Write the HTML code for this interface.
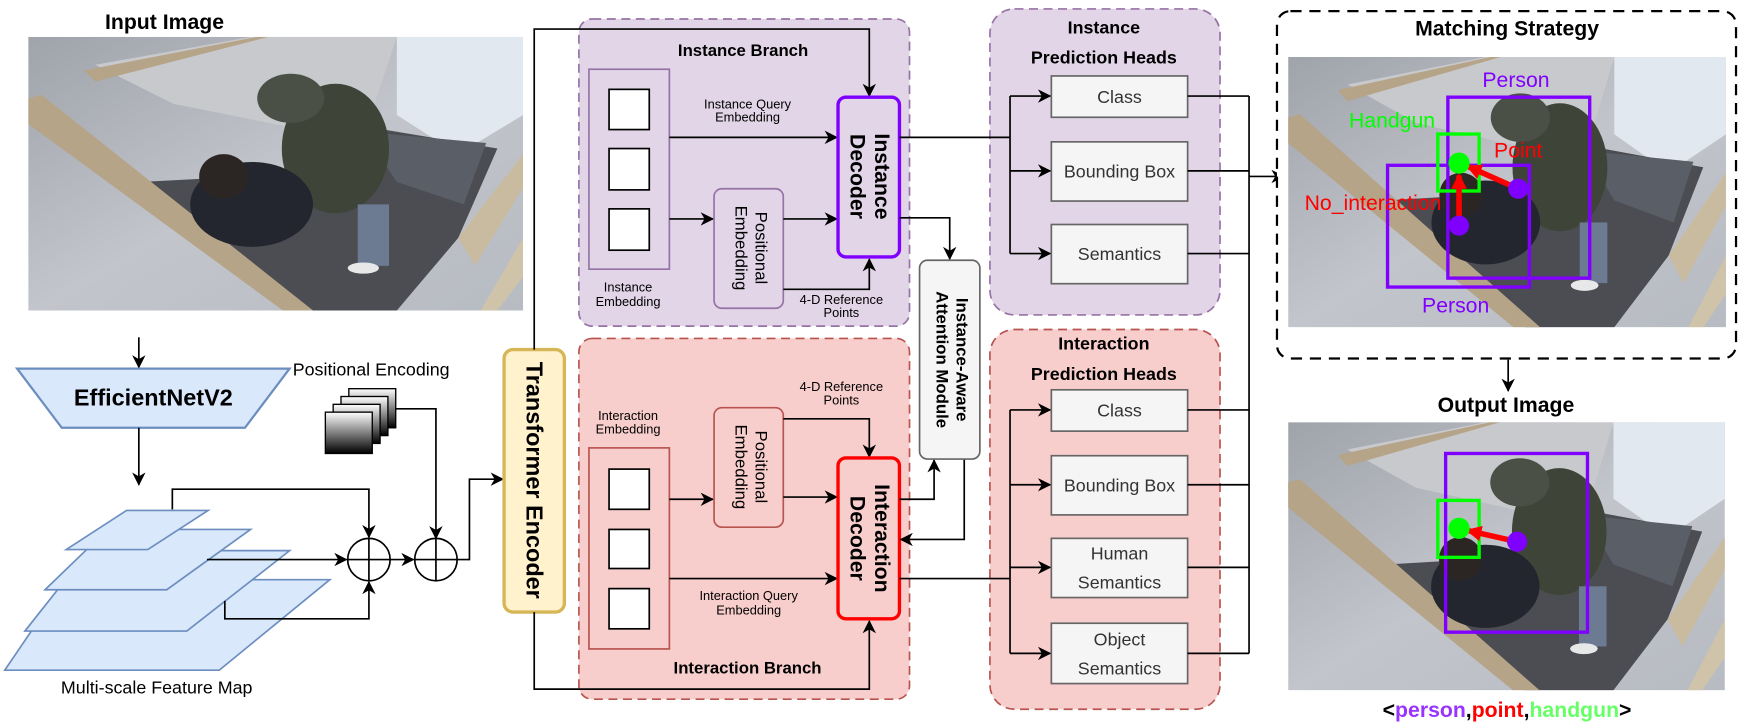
<!DOCTYPE html>
<html><head><meta charset="utf-8"><style>
html,body{margin:0;padding:0;background:#fff;}
svg{display:block;font-family:"Liberation Sans",Arial,sans-serif;}
</style></head><body>
<svg width="1752" height="726" viewBox="0 0 1568 650" xmlns="http://www.w3.org/2000/svg">
<defs>
<marker id="a" markerUnits="userSpaceOnUse" markerWidth="12" markerHeight="12" refX="11" refY="6" orient="auto">
<path d="M0,0 L12,6 L0,12 L3.5,6 z" fill="#000"/></marker>
<marker id="r" markerUnits="userSpaceOnUse" markerWidth="14" markerHeight="14" refX="12" refY="7" orient="auto">
<path d="M0,0 L14,7 L0,14 z" fill="#f00"/></marker>
<linearGradient id="pe" x1="0" y1="0" x2="0" y2="1"><stop offset="0" stop-color="#fff"/><stop offset="1" stop-color="#000"/></linearGradient>
<linearGradient id="wall" x1="0" y1="0" x2="1" y2="1"><stop offset="0" stop-color="#9fa3aa"/><stop offset="0.5" stop-color="#c2c5cb"/><stop offset="1" stop-color="#b7bbc2"/></linearGradient>
<symbol id="scene" viewBox="0 0 443 245" preserveAspectRatio="none">
<rect width="443" height="245" fill="url(#wall)"/>
<polygon points="60,25 200,0 330,0 300,90 230,80 130,60" fill="#c8c9cc"/>
<polygon points="330,0 443,0 443,70 385,105 330,70" fill="#e2e8ef"/>
<polygon points="100,130 190,200 240,245 330,245 385,180 420,100 300,80 290,120" fill="#4b4d52"/>
<polygon points="300,85 410,95 390,150 330,130" fill="#5a5e66"/>
<polygon points="0,55 12,52 255,245 228,245 0,78" fill="#b5a488"/>
<polygon points="50,30 205,0 215,0 60,40" fill="#b5a488"/>
<polygon points="385,180 443,105 443,135 400,205" fill="#c9bba0"/>
<polygon points="405,245 443,180 443,215 420,245" fill="#cfc3aa"/>
<ellipse cx="275" cy="100" rx="48" ry="58" fill="#3f4439"/>
<ellipse cx="235" cy="55" rx="30" ry="22" fill="#4a5046"/>
<ellipse cx="200" cy="150" rx="55" ry="38" fill="#23262f"/>
<rect x="295" y="150" width="28" height="55" fill="#6c7a92"/>
<ellipse cx="300" cy="207" rx="14" ry="5" fill="#e8e8e8"/>
<ellipse cx="175" cy="125" rx="22" ry="20" fill="#2b2623"/>
</symbol>
</defs>

<!-- Left column -->
<text x="147" y="26" font-size="19" font-weight="bold" text-anchor="middle">Input Image</text>
<use href="#scene" x="25" y="33" width="443" height="245"/>
<line x1="124" y1="302" x2="124" y2="329" stroke="#000" stroke-width="1.5" marker-end="url(#a)"/>
<polygon points="15,330 259,330 219,383 55,383" fill="#dae8fc" stroke="#6c8ebf" stroke-width="2"/>
<text x="137" y="363" font-size="21" font-weight="bold" text-anchor="middle">EfficientNetV2</text>
<line x1="124" y1="383" x2="124" y2="434" stroke="#000" stroke-width="1.5" marker-end="url(#a)"/>

<polygon points="4,600 59,519 295,519 196,600" fill="#dae8fc" stroke="#6c8ebf" stroke-width="1.5"/>
<polygon points="22,565 79,493 259,493 167,565" fill="#dae8fc" stroke="#6c8ebf" stroke-width="1.5"/>
<polygon points="40,528 96,474 224,474 149,528" fill="#dae8fc" stroke="#6c8ebf" stroke-width="1.5"/>
<polygon points="59,492 113,457 186,457 132,492" fill="#dae8fc" stroke="#6c8ebf" stroke-width="1.5"/>
<text x="140" y="621" font-size="16" text-anchor="middle">Multi-scale Feature Map</text>

<polyline points="154,456 154,438 330,438 330,481" fill="none" stroke="#000" stroke-width="1.5" marker-end="url(#a)"/>
<line x1="185" y1="501" x2="310" y2="501" stroke="#000" stroke-width="1.5" marker-end="url(#a)"/>
<polyline points="201,538 201,554 330,554 330,521" fill="none" stroke="#000" stroke-width="1.5" marker-end="url(#a)"/>
<circle cx="330" cy="501" r="19" fill="#fff" stroke="#000" stroke-width="1.5"/>
<line x1="311" y1="501" x2="349" y2="501" stroke="#000" stroke-width="1.5"/>
<line x1="330" y1="482" x2="330" y2="520" stroke="#000" stroke-width="1.5"/>
<line x1="349" y1="501" x2="370" y2="501" stroke="#000" stroke-width="1.5" marker-end="url(#a)"/>
<circle cx="390" cy="501" r="19" fill="#fff" stroke="#000" stroke-width="1.5"/>
<line x1="371" y1="501" x2="409" y2="501" stroke="#000" stroke-width="1.5"/>
<line x1="390" y1="482" x2="390" y2="520" stroke="#000" stroke-width="1.5"/>

<text x="332" y="336" font-size="16" text-anchor="middle">Positional Encoding</text>
<rect x="312" y="348" width="42" height="35" fill="url(#pe)" stroke="#000" stroke-width="1.2"/>
<rect x="305" y="355" width="42" height="35" fill="url(#pe)" stroke="#000" stroke-width="1.2"/>
<rect x="298" y="362" width="42" height="35" fill="url(#pe)" stroke="#000" stroke-width="1.2"/>
<rect x="291" y="369" width="42" height="37" fill="url(#pe)" stroke="#000" stroke-width="1.2"/>
<polyline points="354,366 390,366 390,482" fill="none" stroke="#000" stroke-width="1.5" marker-end="url(#a)"/>
<polyline points="409,501 420,501 420,429 450,429" fill="none" stroke="#000" stroke-width="1.5" marker-end="url(#a)"/>

<rect x="451" y="313" width="54" height="235" rx="8" fill="#fff2cc" stroke="#d6b656" stroke-width="3"/>
<text transform="translate(471,430) rotate(90)" font-size="21" font-weight="bold" text-anchor="middle">Transformer Encoder</text>

<!-- Instance branch -->
<rect x="518" y="17" width="296" height="275" rx="12" fill="#e1d5e7" stroke="#9673a6" stroke-width="1.5" stroke-dasharray="8,5"/>
<text x="665" y="50" font-size="15" font-weight="bold" text-anchor="middle">Instance Branch</text>
<polyline points="478,313 478,26 778,26 778,86" fill="none" stroke="#000" stroke-width="1.5" marker-end="url(#a)"/>
<rect x="527" y="62" width="72" height="179" fill="#e1d5e7" stroke="#9673a6" stroke-width="1.5"/>
<rect x="545" y="80" width="36" height="36" fill="#fff" stroke="#000" stroke-width="1.5"/>
<rect x="545" y="133" width="36" height="37" fill="#fff" stroke="#000" stroke-width="1.5"/>
<rect x="545" y="187" width="36" height="37" fill="#fff" stroke="#000" stroke-width="1.5"/>
<text font-size="11.5" text-anchor="middle"><tspan x="562" y="261">Instance</tspan><tspan x="562" y="274">Embedding</tspan></text>
<line x1="599" y1="123" x2="749" y2="123" stroke="#000" stroke-width="1.5" marker-end="url(#a)"/>
<text font-size="11.5" text-anchor="middle"><tspan x="669" y="97">Instance Query</tspan><tspan x="669" y="109">Embedding</tspan></text>
<line x1="599" y1="196" x2="638" y2="196" stroke="#000" stroke-width="1.5" marker-end="url(#a)"/>
<rect x="639" y="169" width="62" height="107" rx="7" fill="#e1d5e7" stroke="#9673a6" stroke-width="1.5"/>
<text transform="translate(670,222) rotate(90)" font-size="15" text-anchor="middle"><tspan x="0" y="-6">Positional</tspan><tspan x="0" y="12">Embedding</tspan></text>
<line x1="701" y1="196" x2="749" y2="196" stroke="#000" stroke-width="1.5" marker-end="url(#a)"/>
<polyline points="701,259 778,259 778,232" fill="none" stroke="#000" stroke-width="1.5" marker-end="url(#a)"/>
<text font-size="11.5" text-anchor="middle"><tspan x="753" y="272">4-D Reference</tspan><tspan x="753" y="284">Points</tspan></text>
<rect x="750" y="87" width="55" height="143" rx="7" fill="#e1d5e7" stroke="#7f00ff" stroke-width="3"/>
<text transform="translate(777,158) rotate(90)" font-size="19" font-weight="bold" text-anchor="middle"><tspan x="0" y="-6">Instance</tspan><tspan x="0" y="16">Decoder</tspan></text>
<polyline points="805,195 850,195 850,232" fill="none" stroke="#000" stroke-width="1.5" marker-end="url(#a)"/>

<!-- Interaction branch -->
<rect x="518" y="303" width="296" height="323" rx="12" fill="#f8cecc" stroke="#b85450" stroke-width="1.5" stroke-dasharray="8,5"/>
<text x="669" y="603" font-size="15" font-weight="bold" text-anchor="middle">Interaction Branch</text>
<polyline points="478,548 478,617 778,617 778,556" fill="none" stroke="#000" stroke-width="1.5" marker-end="url(#a)"/>
<text font-size="11.5" text-anchor="middle"><tspan x="562" y="376">Interaction</tspan><tspan x="562" y="388">Embedding</tspan></text>
<rect x="527" y="401" width="72" height="180" fill="#f8cecc" stroke="#b85450" stroke-width="1.5"/>
<rect x="545" y="420" width="36" height="36" fill="#fff" stroke="#000" stroke-width="1.5"/>
<rect x="545" y="474" width="36" height="35" fill="#fff" stroke="#000" stroke-width="1.5"/>
<rect x="545" y="527" width="36" height="36" fill="#fff" stroke="#000" stroke-width="1.5"/>
<line x1="599" y1="447" x2="638" y2="447" stroke="#000" stroke-width="1.5" marker-end="url(#a)"/>
<rect x="639" y="365" width="62" height="107" rx="7" fill="#f8cecc" stroke="#b85450" stroke-width="1.5"/>
<text transform="translate(670,418) rotate(90)" font-size="15" text-anchor="middle"><tspan x="0" y="-6">Positional</tspan><tspan x="0" y="12">Embedding</tspan></text>
<line x1="701" y1="445" x2="749" y2="445" stroke="#000" stroke-width="1.5" marker-end="url(#a)"/>
<polyline points="701,375 778,375 778,409" fill="none" stroke="#000" stroke-width="1.5" marker-end="url(#a)"/>
<text font-size="11.5" text-anchor="middle"><tspan x="753" y="350">4-D Reference</tspan><tspan x="753" y="362">Points</tspan></text>
<line x1="599" y1="518" x2="749" y2="518" stroke="#000" stroke-width="1.5" marker-end="url(#a)"/>
<text font-size="11.5" text-anchor="middle"><tspan x="670" y="537">Interaction Query</tspan><tspan x="670" y="550">Embedding</tspan></text>
<rect x="750" y="410" width="55" height="144" rx="7" fill="#f8cecc" stroke="#ff0000" stroke-width="3"/>
<text transform="translate(777,482) rotate(90)" font-size="19" font-weight="bold" text-anchor="middle"><tspan x="0" y="-6">Interaction</tspan><tspan x="0" y="16">Decoder</tspan></text>
<polyline points="805,447 836,447 836,412" fill="none" stroke="#000" stroke-width="1.5" marker-end="url(#a)"/>
<polyline points="863,411 863,483 806,483" fill="none" stroke="#000" stroke-width="1.5" marker-end="url(#a)"/>

<!-- Attention module -->
<rect x="823" y="233" width="54" height="178" rx="7" fill="#f5f5f5" stroke="#666" stroke-width="1.5"/>
<text transform="translate(850,322) rotate(90)" font-size="15" font-weight="bold" text-anchor="middle"><tspan x="0" y="-6">Instance-Aware</tspan><tspan x="0" y="12">Attention Module</tspan></text>

<!-- Instance heads -->
<rect x="886" y="8" width="206" height="274" rx="22" fill="#e1d5e7" stroke="#9673a6" stroke-width="1.5" stroke-dasharray="8,5"/>
<text font-size="16" font-weight="bold" text-anchor="middle"><tspan x="988" y="30">Instance</tspan><tspan x="988" y="57">Prediction Heads</tspan></text>
<line x1="805" y1="123" x2="904" y2="123" stroke="#000" stroke-width="1.5"/>
<line x1="904" y1="86" x2="904" y2="227" stroke="#000" stroke-width="1.5"/>
<line x1="904" y1="86" x2="940" y2="86" stroke="#000" stroke-width="1.5" marker-end="url(#a)"/>
<line x1="904" y1="153" x2="940" y2="153" stroke="#000" stroke-width="1.5" marker-end="url(#a)"/>
<line x1="904" y1="227" x2="940" y2="227" stroke="#000" stroke-width="1.5" marker-end="url(#a)"/>
<rect x="941" y="68" width="122" height="37" fill="#f5f5f5" stroke="#666" stroke-width="1.5"/>
<rect x="941" y="127" width="122" height="53" fill="#f5f5f5" stroke="#666" stroke-width="1.5"/>
<rect x="941" y="201" width="122" height="53" fill="#f5f5f5" stroke="#666" stroke-width="1.5"/>
<g font-size="16" fill="#333" text-anchor="middle">
<text x="1002" y="92">Class</text><text x="1002" y="159">Bounding Box</text><text x="1002" y="233">Semantics</text>
</g>

<!-- Interaction heads -->
<rect x="886" y="295" width="206" height="340" rx="22" fill="#f8cecc" stroke="#b85450" stroke-width="1.5" stroke-dasharray="8,5"/>
<text font-size="16" font-weight="bold" text-anchor="middle"><tspan x="988" y="313">Interaction</tspan><tspan x="988" y="340">Prediction Heads</tspan></text>
<line x1="805" y1="518" x2="904" y2="518" stroke="#000" stroke-width="1.5"/>
<line x1="904" y1="367" x2="904" y2="585" stroke="#000" stroke-width="1.5"/>
<line x1="904" y1="367" x2="940" y2="367" stroke="#000" stroke-width="1.5" marker-end="url(#a)"/>
<line x1="904" y1="434" x2="940" y2="434" stroke="#000" stroke-width="1.5" marker-end="url(#a)"/>
<line x1="904" y1="508" x2="940" y2="508" stroke="#000" stroke-width="1.5" marker-end="url(#a)"/>
<line x1="904" y1="585" x2="940" y2="585" stroke="#000" stroke-width="1.5" marker-end="url(#a)"/>
<rect x="941" y="349" width="122" height="37" fill="#f5f5f5" stroke="#666" stroke-width="1.5"/>
<rect x="941" y="408" width="122" height="53" fill="#f5f5f5" stroke="#666" stroke-width="1.5"/>
<rect x="941" y="482" width="122" height="53" fill="#f5f5f5" stroke="#666" stroke-width="1.5"/>
<rect x="941" y="558" width="122" height="54" fill="#f5f5f5" stroke="#666" stroke-width="1.5"/>
<g font-size="16" fill="#333" text-anchor="middle">
<text x="1002" y="373">Class</text><text x="1002" y="440">Bounding Box</text>
<text x="1002" y="501">Human</text><text x="1002" y="527">Semantics</text>
<text x="1002" y="578">Object</text><text x="1002" y="604">Semantics</text>
</g>

<!-- collector -->
<g stroke="#000" stroke-width="1.5" fill="none">
<line x1="1063" y1="86" x2="1118" y2="86"/><line x1="1063" y1="153" x2="1118" y2="153"/><line x1="1063" y1="227" x2="1118" y2="227"/>
<line x1="1063" y1="367" x2="1118" y2="367"/><line x1="1063" y1="434" x2="1118" y2="434"/><line x1="1063" y1="508" x2="1118" y2="508"/><line x1="1063" y1="585" x2="1118" y2="585"/>
<line x1="1118" y1="86" x2="1118" y2="585"/>
</g>
<line x1="1118" y1="158" x2="1149" y2="158" stroke="#000" stroke-width="1.5" marker-end="url(#a)"/>

<!-- Matching strategy -->
<rect x="1143" y="10" width="411" height="311" rx="12" fill="#fff" stroke="#000" stroke-width="2" stroke-dasharray="10,7"/>
<text x="1349" y="32" font-size="19" font-weight="bold" text-anchor="middle">Matching Strategy</text>
<use href="#scene" x="1153" y="51" width="392" height="242"/>
<g fill="none" stroke="#7f00ff" stroke-width="3"><rect x="1296" y="87" width="127" height="162"/><rect x="1242" y="148" width="127" height="109"/></g>
<rect x="1287" y="120" width="37" height="51" fill="none" stroke="#00ff00" stroke-width="3"/>
<line x1="1359" y1="169" x2="1314" y2="149" stroke="#f00" stroke-width="5" marker-end="url(#r)"/>
<line x1="1306" y1="202" x2="1306" y2="157" stroke="#f00" stroke-width="5" marker-end="url(#r)"/>
<circle cx="1306" cy="146" r="9.5" fill="#00ff00"/>
<circle cx="1359" cy="169" r="9" fill="#7f00ff"/>
<circle cx="1306" cy="202" r="9" fill="#7f00ff"/>
<g font-size="19" text-anchor="middle">
<text x="1357" y="78" fill="#7f00ff">Person</text>
<text x="1246" y="114" fill="#00ff00">Handgun</text>
<text x="1359" y="141" fill="#f00">Point</text>
<text x="1229" y="188" fill="#f00">No_interaction</text>
<text x="1303" y="280" fill="#7f00ff">Person</text>
</g>
<line x1="1350" y1="322" x2="1350" y2="350" stroke="#000" stroke-width="1.5" marker-end="url(#a)"/>
<text x="1348" y="369" font-size="19" font-weight="bold" text-anchor="middle">Output Image</text>
<use href="#scene" x="1153" y="378" width="391" height="240"/>
<rect x="1294" y="406" width="127" height="160" fill="none" stroke="#7f00ff" stroke-width="3"/>
<rect x="1287" y="448" width="37" height="51" fill="none" stroke="#00ff00" stroke-width="3"/>
<line x1="1358" y1="485" x2="1314" y2="475" stroke="#f00" stroke-width="5" marker-end="url(#r)"/>
<circle cx="1306" cy="473" r="9.5" fill="#00ff00"/>
<circle cx="1358" cy="485" r="9" fill="#7f00ff"/>
<text x="1349" y="642" font-size="19" font-weight="bold" text-anchor="middle">&lt;<tspan fill="#9933ff">person</tspan>,<tspan fill="#ff0000">point</tspan>,<tspan fill="#66ff66">handgun</tspan>&gt;</text>
</svg>
</body></html>
